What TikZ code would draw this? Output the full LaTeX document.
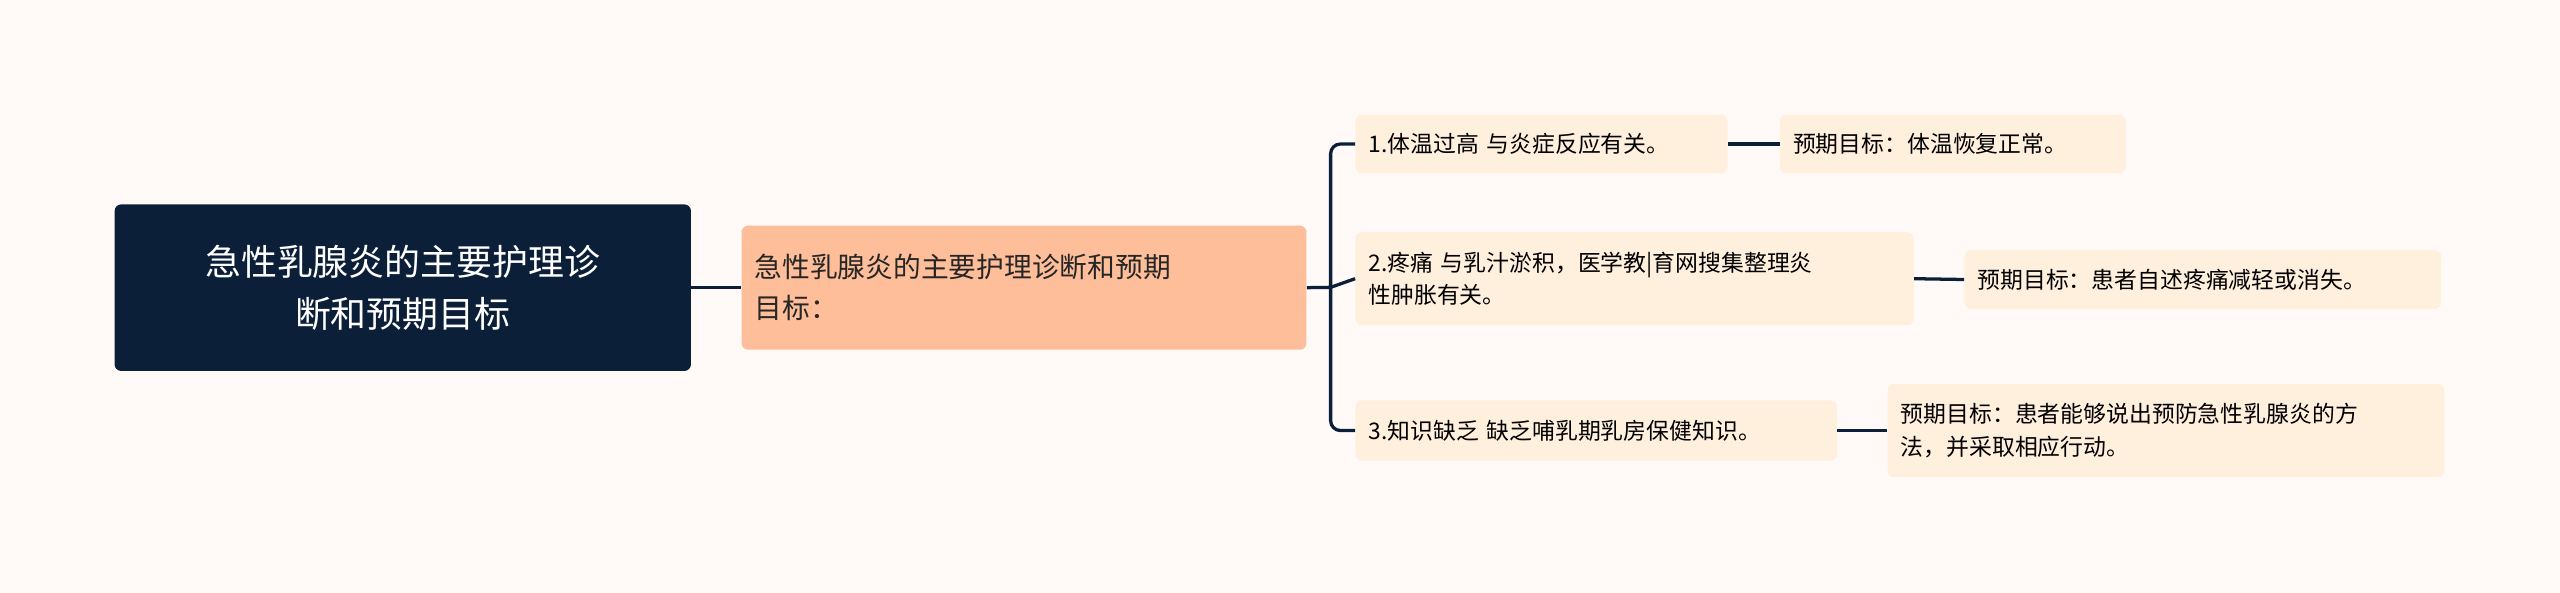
\documentclass[tikz,border=0pt]{standalone}
\usepackage{fontspec}
\setmainfont{Noto Sans CJK SC}
\begin{document}
\begin{tikzpicture}[x=1pt,y=-1pt,
  box/.style={rounded corners=4pt,inner sep=0pt,anchor=north west},
  leaf/.style={box,fill=leafc,text=black,font=\fontsize{14}{20}\selectfont,align=left,text width=#1-16,inner xsep=8pt},
  link/.style={draw=navy,line width=2pt,rounded corners=6pt}]
\definecolor{navy}{HTML}{0C1F38}
\definecolor{bg}{HTML}{FFFAF8}
\definecolor{midc}{HTML}{FFBE9A}
\definecolor{leafc}{HTML}{FFF0DE}
\fill[bg] (0,0) rectangle (1568,363);
\useasboundingbox (0,0) rectangle (1568,363);
\node[box,fill=navy,text=white,minimum width=353pt,minimum height=102pt,font=\fontsize{22}{32}\selectfont,align=center] (root) at (70,125) {急性乳腺炎的主要护理诊\\断和预期目标};
\node[box,fill=midc,text=black!85,minimum width=346pt,minimum height=76pt,font=\fontsize{17}{25}\selectfont,align=left,text width=330pt,inner xsep=8pt] (mid) at (454,138) {急性乳腺炎的主要护理诊断和预期\\目标：};
\node[leaf=228,minimum height=36pt] (l1) at (830,70) {1.体温过高 与炎症反应有关。};
\node[leaf=342,minimum height=57pt] (l2) at (830,142) {2.疼痛 与乳汁淤积，医学教|育网搜集整理炎\\性肿胀有关。};
\node[leaf=295,minimum height=37pt] (l3) at (830,245) {3.知识缺乏 缺乏哺乳期乳房保健知识。};
\node[leaf=212,minimum height=36pt] (g1) at (1090,70) {预期目标：体温恢复正常。};
\node[leaf=292,minimum height=36pt] (g2) at (1203,153) {预期目标：患者自述疼痛减轻或消失。};
\node[leaf=341,minimum height=57pt] (g3) at (1156,235) {预期目标：患者能够说出预防急性乳腺炎的方\\法，并采取相应行动。};
\draw[link] (root.east) -- (mid.west);
\coordinate (j) at (815,176);
\draw[link] (mid.east) -- (j);
\draw[link] (j) |- (l1.west);
\draw[link] (j) |- (l3.west);
\draw[link] (j) -- (l2.west);
\draw[link] (l1.east) -- (g1.west);
\draw[link] (l2.east) -- (g2.west);
\draw[link] (l3.east) -- (g3.west);
\end{tikzpicture}
\end{document}
